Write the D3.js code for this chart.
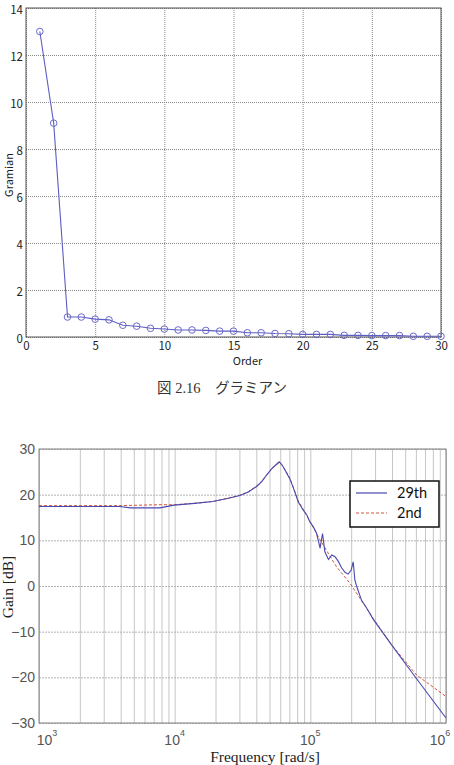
<!DOCTYPE html>
<html>
<head>
<meta charset="utf-8">
<script src="https://cdn.jsdelivr.net/npm/d3@7"></script>
<style>
  body { margin: 0; background: #fff; }
  svg { display: block; }
</style>
</head>
<body>
<svg id="chart" width="454" height="765"></svg>
<script>
// --- top chart: gramian per order
const orders = [1, 2, 3, 4, 5, 6, 7, 8, 9, 10, 11, 12, 13, 14, 15, 16, 17, 18, 19, 20, 21, 22, 23, 24, 25, 26, 27, 28, 29, 30];
const gramian = [13.0, 9.1, 0.85, 0.85, 0.76, 0.73, 0.5, 0.46, 0.37, 0.34, 0.3, 0.3, 0.28, 0.25, 0.25, 0.18, 0.18, 0.15, 0.14, 0.11, 0.11, 0.11, 0.07, 0.07, 0.06, 0.06, 0.06, 0.03, 0.03, 0.03];
const orderTicks = [0, 5, 10, 15, 20, 25, 30];
const gramTicks = [0, 2, 4, 6, 8, 10, 12, 14];

// --- bottom chart: bode gain, 29th order vs 2nd order model
const freq29 = [1000, 2000, 3950, 4700, 7800, 9900, 14000, 19100, 25000, 30300, 35000, 40200, 44000, 47600, 52000, 56000, 59000, 62000, 65000, 70800, 76000, 81500, 88700, 94000, 99300, 105000, 111000, 118000, 123000, 128000, 136000, 144000, 152000, 160000, 170000, 180000, 190000, 200000, 207000, 213000, 222000, 239000, 260000, 291000, 397000, 607000, 1000000];
const gain29 = [17.4, 17.4, 17.4, 17.1, 17.1, 17.7, 18.1, 18.5, 19.2, 19.8, 20.6, 21.8, 22.9, 24.3, 25.7, 26.6, 27.2, 26.5, 25.4, 23.4, 21.0, 18.4, 16.6, 15.6, 14.0, 13.0, 11.6, 8.3, 11.5, 7.5, 5.8, 6.8, 6.4, 5.5, 4.0, 3.0, 2.6, 3.5, 5.3, 1.3, -0.5, -3.2, -4.8, -7.3, -12.9, -20.3, -28.9];
const freq2 = [1000, 3950, 7800, 9900, 14000, 19100, 25000, 30300, 35000, 40200, 44000, 47600, 52000, 56000, 59000, 62000, 65000, 70800, 81500, 88700, 99300, 118000, 156000, 196000, 291000, 397000, 607000, 1000000];
const gain2 = [17.6, 17.6, 17.8, 17.8, 18.1, 18.5, 19.3, 19.9, 20.7, 21.9, 23.0, 24.3, 25.7, 26.5, 27.0, 26.4, 25.5, 23.6, 18.6, 16.8, 14.2, 10.1, 4.2, 0.6, -7.1, -12.9, -19.5, -24.2];
const gainTicks = [-30, -20, -10, 0, 10, 20, 30];
const decadeTicks = [1e3, 1e4, 1e5, 1e6];
const seriesNames = ["29th", "2nd"];

const svg = d3.select("#chart");

// ================= top chart =================
const box1 = { left: 26, right: 441, top: 8, bottom: 337 };
const x1 = d3.scaleLinear().domain([0, 30]).range([box1.left, box1.right]);
const y1 = d3.scaleLinear().domain([0, 14]).range([box1.bottom, box1.top]);

const g1 = svg.append("g");

// grid
g1.append("g")
  .attr("transform", `translate(0,${box1.bottom})`)
  .call(d3.axisBottom(x1).tickValues(orderTicks).tickSize(-(box1.bottom - box1.top)).tickFormat(""))
  .call(g => g.select(".domain").remove())
  .call(g => g.selectAll("line").attr("stroke", "#8a8a8a").attr("stroke-dasharray", "1,1"));
g1.append("g")
  .attr("transform", `translate(${box1.left},0)`)
  .call(d3.axisLeft(y1).tickValues(gramTicks).tickSize(-(box1.right - box1.left)).tickFormat(""))
  .call(g => g.select(".domain").remove())
  .call(g => g.selectAll("line").attr("stroke", "#8a8a8a").attr("stroke-dasharray", "1,1"));

g1.append("rect")
  .attr("x", box1.left).attr("y", box1.top)
  .attr("width", box1.right - box1.left).attr("height", box1.bottom - box1.top)
  .attr("fill", "none").attr("stroke", "#555").attr("stroke-width", 1);

// tick labels
const tickFont = "'Noto Sans CJK JP', 'Liberation Sans', sans-serif";
g1.append("g")
  .attr("transform", `translate(0,${box1.bottom})`)
  .call(d3.axisBottom(x1).tickValues(orderTicks).tickSize(0).tickPadding(5))
  .call(g => g.select(".domain").remove())
  .call(g => g.selectAll("text").attr("font-family", tickFont).attr("font-size", 11.5).attr("fill", "#222"));
g1.append("g")
  .attr("transform", `translate(${box1.left},0)`)
  .call(d3.axisLeft(y1).tickValues(gramTicks).tickSize(0).tickPadding(3))
  .call(g => g.select(".domain").remove())
  .call(g => g.selectAll("text").attr("font-family", tickFont).attr("font-size", 11.5).attr("fill", "#222").attr("dy", "0.45em"));

g1.append("text")
  .attr("x", (box1.left + box1.right) / 2 + 14).attr("y", 365)
  .attr("text-anchor", "middle")
  .attr("font-family", tickFont).attr("font-size", 11).attr("fill", "#222")
  .text("Order");
g1.append("text")
  .attr("transform", "translate(13,175) rotate(-90)")
  .attr("text-anchor", "middle")
  .attr("font-family", tickFont).attr("font-size", 11).attr("fill", "#222")
  .text("Gramian");

const line1 = d3.line().x((d, i) => x1(orders[i])).y(d => y1(d));
g1.append("path")
  .datum(gramian)
  .attr("d", line1)
  .attr("fill", "none").attr("stroke", "#5d5dc4").attr("stroke-width", 1.1);
g1.selectAll("circle.pt")
  .data(gramian)
  .enter().append("circle")
  .attr("class", "pt")
  .attr("cx", (d, i) => x1(orders[i]))
  .attr("cy", d => y1(d))
  .attr("r", 3.3)
  .attr("fill", "none").attr("stroke", "#6a6ac8").attr("stroke-width", 1);

// caption
svg.append("text")
  .attr("x", 222).attr("y", 393)
  .attr("text-anchor", "middle")
  .attr("font-family", "'Liberation Serif', 'Noto Sans CJK JP', serif")
  .attr("font-size", 14.5).attr("fill", "#333")
  .text("図 2.16\u3000グラミアン");

// ================= bottom chart =================
const box2 = { left: 39, right: 446, top: 449, bottom: 723 };
const x2 = d3.scaleLog().domain([1e3, 1e6]).range([box2.left, box2.right]);
const y2 = d3.scaleLinear().domain([-30, 30]).range([box2.bottom, box2.top]);

const g2 = svg.append("g");

const minorFreqs = [];
decadeTicks.slice(0, 3).forEach(dec => {
  for (let k = 1; k < 10; k++) minorFreqs.push(dec * k);
});
minorFreqs.push(1e6);

g2.append("g")
  .attr("transform", `translate(0,${box2.bottom})`)
  .call(d3.axisBottom(x2).tickValues(minorFreqs).tickSize(-(box2.bottom - box2.top)).tickFormat(""))
  .call(g => g.select(".domain").remove())
  .call(g => g.selectAll("line").attr("stroke", "#c6c6c6"));
g2.append("g")
  .attr("transform", `translate(${box2.left},0)`)
  .call(d3.axisLeft(y2).tickValues(gainTicks).tickSize(-(box2.right - box2.left)).tickFormat(""))
  .call(g => g.select(".domain").remove())
  .call(g => g.selectAll("line").attr("stroke", "#b4b4b4").attr("stroke-dasharray", "2,1"));

g2.append("rect")
  .attr("x", box2.left).attr("y", box2.top)
  .attr("width", box2.right - box2.left).attr("height", box2.bottom - box2.top)
  .attr("fill", "none").attr("stroke", "#808080").attr("stroke-width", 1);

const labelFont = "'Liberation Sans', Arial, sans-serif";
g2.append("g")
  .attr("transform", `translate(${box2.left},0)`)
  .call(d3.axisLeft(y2).tickValues(gainTicks).tickSize(0).tickPadding(4)
    .tickFormat(d => (d < 0 ? "\u2212" : "") + Math.abs(d)))
  .call(g => g.select(".domain").remove())
  .call(g => g.selectAll("text").attr("font-family", labelFont).attr("font-size", 14).attr("fill", "#555"));

// decade labels with superscript exponents, kept inside the window
const decLabels = g2.selectAll("text.dec")
  .data(decadeTicks)
  .enter().append("text")
  .attr("class", "dec")
  .attr("x", d => Math.max(47, Math.min(440, x2(d))))
  .attr("y", 745)
  .attr("text-anchor", "middle")
  .attr("font-family", labelFont).attr("font-size", 14).attr("fill", "#555");
decLabels.append("tspan").text("10");
decLabels.append("tspan")
  .attr("dy", -9).attr("font-size", 9)
  .text(d => Math.round(Math.log10(d)));

svg.append("text")
  .attr("x", 265).attr("y", 762)
  .attr("text-anchor", "middle")
  .attr("font-family", "'Liberation Serif', 'Times New Roman', serif")
  .attr("font-size", 15.5).attr("fill", "#222")
  .text("Frequency [rad/s]");
svg.append("text")
  .attr("transform", "translate(13,587) rotate(-90)")
  .attr("text-anchor", "middle")
  .attr("font-family", "'Liberation Serif', 'Times New Roman', serif")
  .attr("font-size", 15.5).attr("fill", "#222")
  .text("Gain [dB]");

const line2 = d3.line().x(d => x2(d[0])).y(d => y2(d[1]));
g2.append("path")
  .datum(freq2.map((f, i) => [f, gain2[i]]))
  .attr("d", line2)
  .attr("fill", "none").attr("stroke", "#d0563c").attr("stroke-width", 1)
  .attr("stroke-dasharray", "3,2");
g2.append("path")
  .datum(freq29.map((f, i) => [f, gain29[i]]))
  .attr("d", line2)
  .attr("fill", "none").attr("stroke", "#4848b0").attr("stroke-width", 1.1);

// legend
const leg = g2.append("g").attr("transform", "translate(350,481)");
leg.append("rect")
  .attr("width", 89).attr("height", 46)
  .attr("fill", "#fff").attr("stroke", "#111").attr("stroke-width", 1.5);
seriesNames.forEach((name, i) => {
  const yy = 12 + i * 20;
  leg.append("line")
    .attr("x1", 6).attr("x2", 37).attr("y1", yy).attr("y2", yy)
    .attr("stroke", i === 0 ? "#4848b0" : "#d0563c")
    .attr("stroke-width", i === 0 ? 1.2 : 1)
    .attr("stroke-dasharray", i === 0 ? null : "3,2");
  leg.append("text")
    .attr("x", 47).attr("y", yy + 5)
    .attr("font-family", "Lato, 'Open Sans', sans-serif")
    .attr("font-size", 14.5).attr("fill", "#111")
    .text(name);
});
</script>
</body>
</html>
